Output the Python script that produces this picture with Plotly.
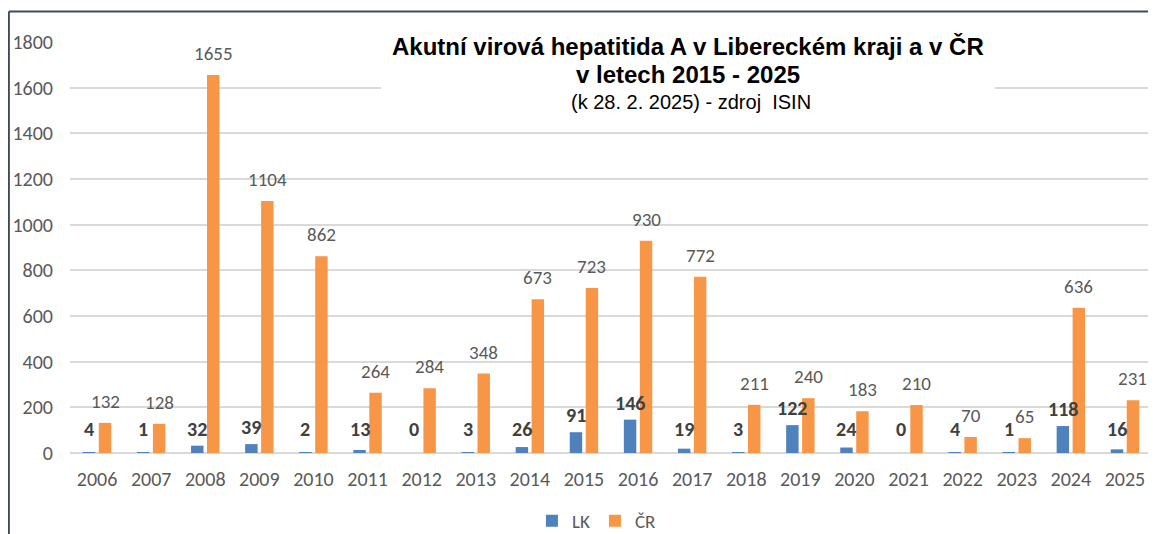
import plotly.graph_objects as go

years = [str(y) for y in range(2006, 2026)]
lk = [4, 1, 32, 39, 2, 13, 0, 3, 26, 91, 146, 19, 3, 122, 24, 0, 4, 1, 118, 16]
cr = [132, 128, 1655, 1104, 862, 264, 284, 348, 673, 723, 930, 772, 211, 240, 183, 210, 70, 65, 636, 231]
y_ticks = [0, 200, 400, 600, 800, 1000, 1200, 1400, 1600, 1800]

BLUE = "#4F81BD"
ORANGE = "#F79646"
FONT = "Carlito, Lato, 'Open Sans', sans-serif"
TFONT = "Liberation Sans, Arial, sans-serif"

fig = go.Figure()
fig.add_trace(go.Bar(name="LK", x=years, y=lk, marker=dict(color=BLUE, line=dict(width=0)),
                     hoverinfo="x+y"))
fig.add_trace(go.Bar(name="ČR", x=years, y=cr, marker=dict(color=ORANGE, line=dict(width=0)),
                     hoverinfo="x+y"))

annotations = []
for i, yr in enumerate(years):
    annotations.append(dict(
        x=i, y=max(lk[i], 30), xref="x", yref="y", text=f"<b>{lk[i]}</b>",
        showarrow=False, xshift=-8, yshift=3, yanchor="bottom",
        font=dict(family=FONT, size=20, color="#404040")))
    annotations.append(dict(
        x=i, y=cr[i], xref="x", yref="y", text=str(cr[i]),
        showarrow=False, xshift=8, yshift=8, yanchor="bottom",
        font=dict(family=FONT, size=19, color="#595959")))

annotations.append(dict(
    x=0.571, y=0.988, xref="paper", yref="paper", xanchor="center", yanchor="middle",
    text="<b>Akutní virová hepatitida A v Libereckém kraji a v ČR</b>",
    showarrow=False, font=dict(family=TFONT, size=24, color="#000000")))
annotations.append(dict(
    x=0.571, y=0.920, xref="paper", yref="paper", xanchor="center", yanchor="middle",
    text="<b>v letech 2015 - 2025</b>",
    showarrow=False, font=dict(family=TFONT, size=24, color="#000000")))
annotations.append(dict(
    x=0.574, y=0.853, xref="paper", yref="paper", xanchor="center", yanchor="middle",
    text="(k 28. 2. 2025) - zdroj  ISIN",
    showarrow=False, font=dict(family=TFONT, size=20, color="#000000")))

fig.update_layout(
    width=1156, height=534,
    margin=dict(l=62, r=12, t=34, b=89, autoexpand=False),
    paper_bgcolor="white", plot_bgcolor="white",
    barmode="group", bargap=0.41, bargroupgap=0.22,
    showlegend=True,
    legend=dict(orientation="h", x=0.487, xanchor="center", y=-0.165, yanchor="middle",
                font=dict(family=FONT, size=19, color="#595959"),
                traceorder="normal", itemwidth=30),
    annotations=annotations,
    shapes=[
        dict(type="rect", xref="paper", yref="paper", x0=0.2874, x1=0.855, y0=0.827, y1=1.029,
             fillcolor="white", line=dict(width=0), layer="above"),
        dict(type="line", xref="paper", yref="paper", x0=-0.0565, x1=-0.0565, y0=-0.25, y1=1.0745,
             line=dict(color="#3E4A5C", width=2), layer="above"),
        dict(type="line", xref="paper", yref="paper", x0=-0.0565, x1=1.02, y0=1.0745, y1=1.0745,
             line=dict(color="#3E4A5C", width=2), layer="above"),
    ],
)
fig.update_xaxes(type="category", showgrid=False, showline=False, ticks="",
                 ticklabelstandoff=12,
                 tickfont=dict(family=FONT, size=20, color="#595959"))
fig.update_yaxes(range=[0, 1800], tickvals=y_ticks, showgrid=True, gridcolor="#D9D9D9",
                 gridwidth=1.5, zeroline=True, zerolinecolor="#D9D9D9", zerolinewidth=2,
                 ticks="", showline=False, ticklabelstandoff=16,
                 tickfont=dict(family=FONT, size=20, color="#595959"))

fig.write_html("out.html")
